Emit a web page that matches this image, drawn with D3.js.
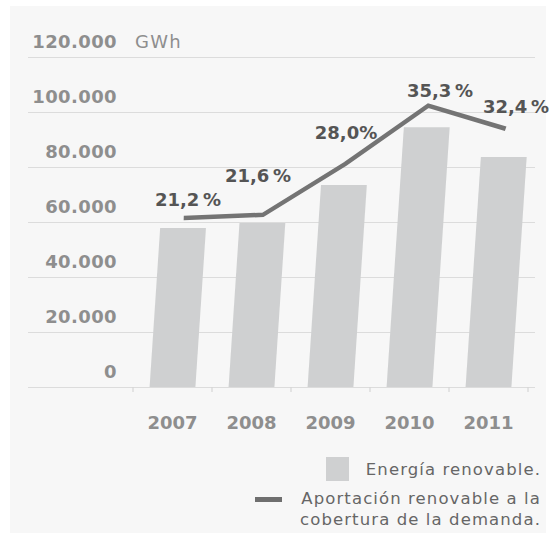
<!DOCTYPE html>
<html>
<head>
<meta charset="utf-8">
<script src="https://cdn.jsdelivr.net/npm/d3@7"></script>
<style>
  html, body { margin: 0; padding: 0; background: #ffffff; }
  svg { display: block; font-family: "DejaVu Sans", Verdana, sans-serif; }
</style>
</head>
<body>
<svg id="chart" width="551" height="534"></svg>
<script>
// Renewable energy production (GWh) and its share of demand coverage (%)
const years = ["2007", "2008", "2009", "2010", "2011"];
const energyGWh = [57800, 59600, 73500, 94500, 83600];
const coveragePct = [21.2, 21.6, 28.0, 35.3, 32.4];
const coverageLabels = ["21,2\u2009%", "21,6\u2009%", "28,0%", "35,3\u2009%", "32,4\u2009%"];
const yTickValues = [0, 20000, 40000, 60000, 80000, 100000, 120000];
const yTickLabels = ["0", "20.000", "40.000", "60.000", "80.000", "100.000", "120.000"];
const unitLabel = "GWh";
const legendItems = ["Energía renovable.", "Aportación renovable a la", "cobertura de la demanda."];

// label placement relative to each line vertex
const labelDx = [15.5, 6.5, 15.5, 30.5, 27.5];
const labelDy = [-12, -33, -25, -9, -16];

const svg = d3.select("#chart");

const plot = { left: 28, right: 535, x0: 133, x1: 528, top: 57, bottom: 387 };

// panel background
svg.append("rect")
  .attr("x", 10).attr("y", 6).attr("width", 536).attr("height", 527)
  .attr("fill", "#f7f7f7");

const x = d3.scaleBand().domain(years)
  .range([plot.x0, plot.x1]).paddingInner(0.42).paddingOuter(0.21);
const y = d3.scaleLinear().domain([0, 120000]).range([plot.bottom, plot.top]);
const yPct = d3.scaleLinear().domain([0, 41.4]).range([plot.bottom, plot.top]);

// horizontal gridlines and their labels
const grid = svg.append("g");
grid.selectAll("line").data(yTickValues).join("line")
  .attr("x1", plot.left).attr("x2", plot.right)
  .attr("y1", d => y(d) + 0.5).attr("y2", d => y(d) + 0.5)
  .attr("stroke", "#dcdcdc").attr("stroke-width", 1.2);
grid.selectAll("text").data(yTickValues).join("text")
  .attr("x", 117).attr("y", d => y(d) - 9)
  .attr("text-anchor", "end")
  .attr("font-size", 18).attr("font-weight", "bold")
  .attr("letter-spacing", 0.4)
  .attr("fill", "#8e8e8e")
  .text((d, i) => yTickLabels[i]);
svg.append("text")
  .attr("x", 135).attr("y", y(120000) - 9)
  .attr("font-size", 18).attr("fill", "#8e8e8e")
  .attr("letter-spacing", 1.2)
  .text(unitLabel);

// category axis
const xAxis = svg.append("g")
  .attr("transform", `translate(0,${plot.bottom + 0.5})`)
  .call(d3.axisBottom(x).tickSize(0).tickPadding(29));
xAxis.select(".domain").remove();
xAxis.selectAll("text")
  .attr("font-family", "DejaVu Sans, Verdana, sans-serif")
  .attr("font-size", 18).attr("font-weight", "bold")
  .attr("fill", "#8e8e8e");
const boundaries = years.map(d => x(d) - x.step() * x.paddingInner() / 2)
  .concat([x(years[years.length - 1]) + x.bandwidth() + x.step() * x.paddingInner() / 2]);
svg.append("g").selectAll("line").data(boundaries).join("line")
  .attr("x1", d => d).attr("x2", d => d)
  .attr("y1", plot.bottom).attr("y2", plot.bottom + 5)
  .attr("stroke", "#d6d6d6").attr("stroke-width", 1.2);

// bars and coverage line share a slight lean
const marks = svg.append("g")
  .attr("transform", `translate(0,${plot.bottom}) skewX(-3.8) translate(0,${-plot.bottom})`);

marks.selectAll("rect").data(years).join("rect")
  .attr("x", d => x(d))
  .attr("width", x.bandwidth())
  .attr("y", (d, i) => y(energyGWh[i]))
  .attr("height", (d, i) => y(0) - y(energyGWh[i]))
  .attr("fill", "#cfd0d1");

const line = d3.line()
  .x((d, i) => x(years[i]) + x.bandwidth() / 2)
  .y(d => yPct(d));
marks.append("path")
  .datum(coveragePct)
  .attr("d", line)
  .attr("fill", "none")
  .attr("stroke", "#747474")
  .attr("stroke-width", 4.5)
  .attr("stroke-linejoin", "miter");

// percentage labels
svg.append("g").selectAll("text").data(coveragePct).join("text")
  .attr("x", (d, i) => x(years[i]) + x.bandwidth() / 2 + labelDx[i])
  .attr("y", (d, i) => yPct(d) + labelDy[i])
  .attr("text-anchor", "middle")
  .attr("font-size", 18).attr("font-weight", "bold")
  .attr("fill", "#555555")
  .text((d, i) => coverageLabels[i]);

// legend
const legend = svg.append("g");
legend.append("rect")
  .attr("x", 326).attr("y", 457).attr("width", 23).attr("height", 24)
  .attr("fill", "#cfd0d1");
legend.append("rect")
  .attr("x", 255).attr("y", 497).attr("width", 27).attr("height", 5)
  .attr("fill", "#6f6f6f");
legend.selectAll("text").data(legendItems).join("text")
  .attr("x", 541)
  .attr("y", (d, i) => [475, 504, 525][i])
  .attr("text-anchor", "end")
  .attr("font-size", 16.5)
  .attr("letter-spacing", 1.1)
  .attr("fill", "#666666")
  .text(d => d);
</script>
</body>
</html>
